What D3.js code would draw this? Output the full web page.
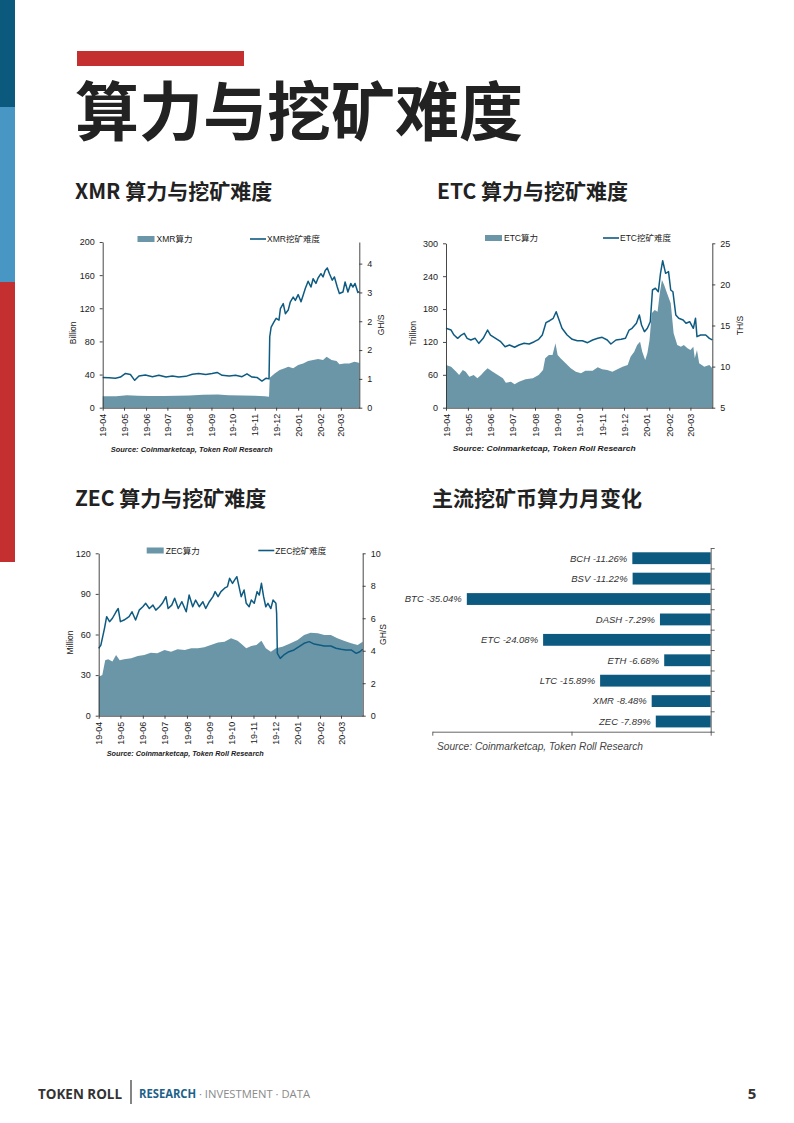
<!DOCTYPE html>
<html>
<head>
<meta charset="utf-8">
<script src="https://cdn.jsdelivr.net/npm/d3@7"></script>
<style>
body { margin: 0; background: #fff; }
svg { display: block; }
text { font-family: "Liberation Sans", Arial, "Noto Sans CJK SC", sans-serif; }
</style>
</head>
<body>
<script>
// ========== Chart data ==========
// XMR hash rate (Billion) and difficulty (GH/S).
var xmrHashDates = ["2019-04-01","2019-04-20","2019-05-05","2019-05-20","2019-06-05","2019-06-25","2019-07-15","2019-08-01","2019-08-20","2019-09-10","2019-09-25","2019-10-15","2019-11-01","2019-11-15","2019-11-21","2019-11-22","2019-11-29","2019-12-06","2019-12-13","2019-12-18","2019-12-25","2020-01-01","2020-01-08","2020-01-15","2020-01-22","2020-01-29","2020-02-05","2020-02-10","2020-02-17","2020-02-24","2020-02-28","2020-03-06","2020-03-13","2020-03-20","2020-03-25","2020-03-27"];
var xmrHashValues = [13.8,13.8,15.0,14.5,14.0,14.2,14.3,14.8,15.5,15.8,15.0,14.8,14.5,13.8,13.3,36,41.4,45.4,47.5,49.4,47.5,51.4,53.5,56.3,57.5,58.7,57.5,61.4,57.5,56.3,52.3,53.5,53.5,55.4,54.7,54];
var xmrDiffDates = ["2019-04-01","2019-04-10","2019-04-19","2019-04-26","2019-05-03","2019-05-10","2019-05-16","2019-05-22","2019-05-31","2019-06-10","2019-06-19","2019-06-29","2019-07-08","2019-07-17","2019-07-27","2019-08-05","2019-08-14","2019-08-24","2019-09-02","2019-09-09","2019-09-16","2019-09-26","2019-10-05","2019-10-14","2019-10-21","2019-10-28","2019-11-04","2019-11-11","2019-11-17","2019-11-21","2019-11-22","2019-11-24","2019-11-28","2019-12-01","2019-12-05","2019-12-07","2019-12-11","2019-12-14","2019-12-18","2019-12-21","2019-12-25","2019-12-28","2020-01-01","2020-01-05","2020-01-08","2020-01-11","2020-01-15","2020-01-19","2020-01-22","2020-01-26","2020-01-29","2020-02-02","2020-02-05","2020-02-08","2020-02-11","2020-02-14","2020-02-18","2020-02-21","2020-02-25","2020-02-28","2020-03-04","2020-03-07","2020-03-11","2020-03-15","2020-03-18","2020-03-21","2020-03-25","2020-03-27"];
var xmrDiffValues = [0.84,0.83,0.82,0.85,0.95,0.92,0.76,0.88,0.91,0.86,0.90,0.85,0.88,0.85,0.87,0.93,0.95,0.92,0.95,0.98,0.90,0.88,0.90,0.86,0.94,0.85,0.84,0.74,0.82,0.80,1.97,2.24,2.38,2.48,2.43,2.75,2.89,2.61,2.71,2.94,3.07,2.98,3.14,2.94,3.12,3.31,3.51,3.35,3.58,3.45,3.60,3.72,3.63,3.81,3.88,3.72,3.54,3.63,3.35,3.17,3.21,3.49,3.21,3.45,3.35,3.45,3.20,3.22];

// ETC hash rate (Trillion) and difficulty (TH/S).
var etcHashDates = ["2019-04-01","2019-04-08","2019-04-15","2019-04-19","2019-04-24","2019-04-28","2019-05-03","2019-05-09","2019-05-14","2019-05-19","2019-05-23","2019-05-28","2019-06-04","2019-06-11","2019-06-18","2019-06-22","2019-06-29","2019-07-04","2019-07-10","2019-07-19","2019-07-29","2019-08-06","2019-08-12","2019-08-15","2019-08-20","2019-08-25","2019-08-29","2019-09-01","2019-09-05","2019-09-12","2019-09-19","2019-09-26","2019-10-03","2019-10-09","2019-10-19","2019-10-26","2019-11-01","2019-11-08","2019-11-15","2019-11-22","2019-11-29","2019-12-06","2019-12-10","2019-12-15","2019-12-19","2019-12-23","2019-12-26","2019-12-30","2020-01-02","2020-01-05","2020-01-08","2020-01-12","2020-01-16","2020-01-19","2020-01-22","2020-01-25","2020-01-29","2020-02-03","2020-02-07","2020-02-12","2020-02-17","2020-02-21","2020-02-26","2020-03-01","2020-03-05","2020-03-07","2020-03-10","2020-03-13","2020-03-20","2020-03-27","2020-03-31"];
var etcHashValues = [77.9,74.8,65.7,59.7,68.8,65.7,56.6,59.7,53.6,59.7,65.7,71.9,65.7,59.7,53.6,45.6,47.4,42.7,47.4,51.8,53.6,59.7,68.8,90.1,96.2,96.2,117.5,96.2,90.1,81,71.9,65.7,62.8,67.5,67.5,73.7,70,68.8,65.7,70,74.8,77.9,93,102.2,114.4,120.4,102.2,87,99.3,123.5,172.3,178.3,175.2,208.8,233,223.9,208.8,190.5,135.8,114.4,111.3,114.4,108.4,105.3,111.3,90.1,105.3,81,74.8,77.9,71.9];
var etcDiffDates = ["2019-04-01","2019-04-08","2019-04-12","2019-04-17","2019-04-22","2019-04-26","2019-04-30","2019-05-05","2019-05-11","2019-05-16","2019-05-22","2019-05-28","2019-06-01","2019-06-08","2019-06-15","2019-06-21","2019-06-27","2019-07-04","2019-07-10","2019-07-17","2019-07-24","2019-07-31","2019-08-06","2019-08-11","2019-08-16","2019-08-21","2019-08-26","2019-08-30","2019-09-03","2019-09-07","2019-09-14","2019-09-21","2019-09-28","2019-10-05","2019-10-12","2019-10-19","2019-10-26","2019-11-01","2019-11-08","2019-11-13","2019-11-20","2019-11-27","2019-12-03","2019-12-08","2019-12-12","2019-12-18","2019-12-22","2019-12-25","2019-12-29","2020-01-02","2020-01-06","2020-01-09","2020-01-13","2020-01-17","2020-01-20","2020-01-23","2020-01-27","2020-01-31","2020-02-03","2020-02-06","2020-02-10","2020-02-14","2020-02-20","2020-02-24","2020-02-29","2020-03-05","2020-03-08","2020-03-10","2020-03-15","2020-03-22","2020-03-27","2020-03-31"];
var etcDiffValues = [14.66,14.45,13.84,13.44,13.84,14.05,13.44,13.24,13.44,12.83,13.44,14.45,13.84,13.44,13.03,12.42,12.63,12.35,12.63,12.83,12.75,13.03,13.32,13.84,15.34,15.58,15.88,16.68,15.67,14.66,13.84,13.32,13.15,13.15,12.91,13.24,13.44,13.56,13.24,12.75,13.24,13.32,13.44,14.45,14.66,15.27,16.28,15.06,14.25,14.66,15.46,19.32,19.53,19.11,21.35,22.88,21.35,21.55,19.32,19.11,16.28,15.88,15.67,15.27,15.46,14.66,15.88,13.64,13.84,13.84,13.44,13.24];

// ZEC hash rate (Million) and difficulty (GH/S).
var zecHashDates = ["2019-04-01","2019-04-06","2019-04-10","2019-04-14","2019-04-20","2019-04-25","2019-04-30","2019-05-06","2019-05-16","2019-05-25","2019-06-03","2019-06-12","2019-06-21","2019-07-01","2019-07-10","2019-07-19","2019-07-29","2019-08-07","2019-08-16","2019-08-25","2019-09-03","2019-09-13","2019-09-22","2019-10-01","2019-10-10","2019-10-17","2019-10-22","2019-10-29","2019-11-05","2019-11-12","2019-11-18","2019-11-25","2019-12-02","2019-12-11","2019-12-20","2020-01-01","2020-01-10","2020-01-19","2020-01-29","2020-02-07","2020-02-16","2020-02-25","2020-03-05","2020-03-15","2020-03-24","2020-03-31"];
var zecHashValues = [28.8,30,41,41.7,40,44.9,41,41.7,42.4,44.1,44.9,46.6,46.1,48.6,47.3,49.1,48.6,49.8,49.8,50.5,52.3,54,54.7,57.2,55.4,52.3,49.8,51.5,52.3,55.4,49.8,47.3,49.8,51,53,56,59.6,61.3,60.9,59.6,59.6,57.2,55.4,53.5,52.3,54.7];
var zecDiffDates = ["2019-04-01","2019-04-04","2019-04-09","2019-04-12","2019-04-16","2019-04-20","2019-04-25","2019-04-28","2019-05-01","2019-05-06","2019-05-13","2019-05-17","2019-05-22","2019-05-27","2019-06-01","2019-06-05","2019-06-10","2019-06-15","2019-06-19","2019-06-24","2019-06-28","2019-07-03","2019-07-06","2019-07-11","2019-07-15","2019-07-20","2019-07-25","2019-07-31","2019-08-04","2019-08-09","2019-08-13","2019-08-18","2019-08-23","2019-08-27","2019-09-01","2019-09-06","2019-09-09","2019-09-13","2019-09-17","2019-09-22","2019-09-26","2019-09-29","2019-10-03","2019-10-06","2019-10-09","2019-10-12","2019-10-15","2019-10-19","2019-10-22","2019-10-26","2019-10-29","2019-11-02","2019-11-06","2019-11-09","2019-11-12","2019-11-15","2019-11-18","2019-11-21","2019-11-25","2019-11-28","2019-12-02","2019-12-03","2019-12-04","2019-12-08","2019-12-13","2019-12-20","2019-12-27","2020-01-03","2020-01-10","2020-01-17","2020-01-24","2020-01-31","2020-02-07","2020-02-16","2020-02-23","2020-03-01","2020-03-08","2020-03-15","2020-03-22","2020-03-27","2020-03-31"];
var zecDiffValues = [4.15,4.35,5.38,6.1,5.79,6.0,6.4,6.6,5.79,5.89,6.1,6.4,5.89,6.5,6.71,6.92,6.6,6.81,6.5,6.71,6.92,7.33,6.6,6.81,7.23,6.6,7.02,6.4,7.43,6.71,7.12,6.71,7.02,6.6,7.02,7.33,7.64,7.33,7.64,7.85,7.95,8.46,8.15,8.36,8.56,7.95,7.33,7.74,6.92,6.71,7.12,6.92,7.64,7.43,8.15,7.33,6.71,6.92,6.6,7.12,6.92,6.3,3.84,3.53,3.74,3.94,4.05,4.25,4.46,4.56,4.41,4.35,4.29,4.29,4.15,4.09,4.05,4.05,3.84,3.94,4.09];

// Monthly hash rate change of mainstream mined coins (%).
var barCoins = ["BCH","BSV","BTC","DASH","ETC","ETH","LTC","XMR","ZEC"];
var barChanges = [-11.26,-11.22,-35.04,-7.29,-24.08,-6.68,-15.89,-8.48,-7.89];
// ===========================================================

var areaColor = "#6a96a8";
var lineColor = "#0e5b82";
var axisColor = "#333";
var parseDate = d3.timeParse("%Y-%m-%d");

var svg = d3.select("body").append("svg")
  .attr("width", 794)
  .attr("height", 1123);

// Left edge colour strip.
svg.append("rect").attr("x", 0).attr("y", 0).attr("width", 15).attr("height", 107).attr("fill", "#0b5a7e");
svg.append("rect").attr("x", 0).attr("y", 107).attr("width", 15).attr("height", 175).attr("fill", "#4796c4");
svg.append("rect").attr("x", 0).attr("y", 282).attr("width", 15).attr("height", 280).attr("fill", "#c3302f");

// Page heading.
svg.append("rect").attr("x", 77).attr("y", 51).attr("width", 167).attr("height", 15).attr("fill", "#c3302f");
svg.append("text")
  .attr("x", 75).attr("y", 135)
  .style("font-family", "'Noto Sans CJK SC', sans-serif")
  .style("font-weight", 700)
  .style("font-size", "64px")
  .attr("fill", "#222")
  .text("算力与挖矿难度");

function subTitle(x, y, str)
{
  svg.append("text")
    .attr("x", x).attr("y", y)
    .style("font-family", "'Noto Sans CJK SC', sans-serif")
    .style("font-weight", 700)
    .style("font-size", "21px")
    .attr("fill", "#222")
    .text(str);
}
subTitle(75, 199, "XMR 算力与挖矿难度");
subTitle(437, 199, "ETC 算力与挖矿难度");
subTitle(75, 506, "ZEC 算力与挖矿难度");
subTitle(432, 506, "主流挖矿币算力月变化");

/* Area (hash rate, left axis) plus line (difficulty, right axis). */
function drawDual(cfg)
{
  var b = cfg.box;
  var g = svg.append("g");

  var x = d3.scaleTime()
    .domain([parseDate(cfg.start), parseDate(cfg.end)])
    .range([b.left, b.right]);
  var yL = d3.scaleLinear().domain(cfg.leftDomain).range([b.bottom, b.top]);
  var yR = d3.scaleLinear().domain(cfg.rightDomain).range([b.bottom, b.top]);

  var hash = cfg.hashDates.map(function(d, i) { return [parseDate(d), cfg.hashValues[i]]; });
  var diff = cfg.diffDates.map(function(d, i) { return [parseDate(d), cfg.diffValues[i]]; });

  var area = d3.area()
    .x(function(d) { return x(d[0]); })
    .y0(b.bottom)
    .y1(function(d) { return yL(d[1]); });
  g.append("path").datum(hash).attr("d", area).attr("fill", areaColor);

  var line = d3.line()
    .x(function(d) { return x(d[0]); })
    .y(function(d) { return yR(d[1]); });
  g.append("path").datum(diff).attr("d", line)
    .attr("fill", "none")
    .attr("stroke", lineColor)
    .attr("stroke-width", 1.5)
    .attr("stroke-linejoin", "round");

  // Axes
  var left = g.append("g")
    .attr("transform", "translate(" + b.left + ",0)")
    .call(d3.axisLeft(yL).tickValues(cfg.leftTicks).tickSize(3).tickSizeOuter(0).tickPadding(5));
  var right = g.append("g")
    .attr("transform", "translate(" + b.right + ",0)")
    .call(d3.axisRight(yR).tickValues(cfg.rightTicks).tickSize(3).tickSizeOuter(0).tickPadding(5)
      .tickFormat(d3.format(".0f")));
  var bottom = g.append("g")
    .attr("transform", "translate(0," + b.bottom + ")")
    .call(d3.axisBottom(x).ticks(d3.timeMonth.every(1)).tickFormat(d3.timeFormat("%y-%m"))
      .tickSize(3).tickSizeOuter(0));
  bottom.selectAll("text")
    .attr("y", 0).attr("x", -6).attr("dy", "0.35em")
    .attr("transform", "rotate(-90)")
    .style("text-anchor", "end");

  [left, right, bottom].forEach(function(a) {
    a.attr("font-family", "'Liberation Sans', Arial, sans-serif").attr("font-size", 9);
    a.selectAll("path, line").attr("stroke", axisColor).attr("stroke-width", 0.9);
    a.selectAll("text").attr("fill", "#1a1a1a");
  });

  // Axis titles
  g.append("text")
    .attr("transform", "translate(" + cfg.leftTitleX + "," + ((b.top + b.bottom) / 2 + 8) + ") rotate(-90)")
    .attr("text-anchor", "middle").attr("font-size", 8.5).attr("fill", "#1a1a1a")
    .text(cfg.leftTitle);
  g.append("text")
    .attr("transform", "translate(" + cfg.rightTitleX + "," + ((b.top + b.bottom) / 2) + ") rotate(-90)")
    .attr("text-anchor", "middle").attr("font-size", 8.5).attr("fill", "#1a1a1a")
    .text(cfg.rightTitle);

  // Legend
  var lg = cfg.legend;
  g.append("rect").attr("x", lg.ax).attr("y", lg.y - 6).attr("width", 17).attr("height", 6).attr("fill", areaColor);
  g.append("text").attr("x", lg.ax + 19).attr("y", lg.y).attr("font-size", 8.5).attr("fill", "#1a1a1a")
    .text(cfg.hashName);
  g.append("line").attr("x1", lg.lx).attr("x2", lg.lx + 16).attr("y1", lg.y - 3).attr("y2", lg.y - 3)
    .attr("stroke", lineColor).attr("stroke-width", 1.6);
  g.append("text").attr("x", lg.lx + 17).attr("y", lg.y).attr("font-size", 8.5).attr("fill", "#1a1a1a")
    .text(cfg.diffName);

  // Source note
  g.append("text")
    .attr("x", cfg.source.x).attr("y", cfg.source.y)
    .attr("font-size", 8).attr("font-weight", "bold").attr("font-style", "italic")
    .attr("fill", "#1a1a1a")
    .attr("textLength", cfg.source.w).attr("lengthAdjust", "spacingAndGlyphs")
    .text("Source: Coinmarketcap, Token Roll Research");
}

drawDual({
  box: {left: 102.7, right: 359.3, top: 242, bottom: 407.7},
  start: "2019-04-01", end: "2020-03-27",
  leftDomain: [0, 200], leftTicks: [0, 40, 80, 120, 160, 200],
  rightDomain: [0, 4.6], rightTicks: [0, 0.8, 1.6, 2.4, 3.2, 4.0],
  hashDates: xmrHashDates, hashValues: xmrHashValues,
  diffDates: xmrDiffDates, diffValues: xmrDiffValues,
  hashName: "XMR算力", diffName: "XMR挖矿难度",
  leftTitle: "Billion", leftTitleX: 76, rightTitle: "GH/S", rightTitleX: 384,
  legend: {ax: 137.5, lx: 250, y: 242},
  source: {x: 110.7, y: 452, w: 162}
});

drawDual({
  box: {left: 446, right: 712.3, top: 243.3, bottom: 407.7},
  start: "2019-04-01", end: "2020-03-31",
  leftDomain: [0, 300], leftTicks: [0, 60, 120, 180, 240, 300],
  rightDomain: [5, 25], rightTicks: [5, 10, 15, 20, 25],
  hashDates: etcHashDates, hashValues: etcHashValues,
  diffDates: etcDiffDates, diffValues: etcDiffValues,
  hashName: "ETC算力", diffName: "ETC挖矿难度",
  leftTitle: "Trillion", leftTitleX: 415.5, rightTitle: "TH/S", rightTitleX: 742.5,
  legend: {ax: 485, lx: 603, y: 241},
  source: {x: 452.7, y: 450.5, w: 183}
});

drawDual({
  box: {left: 98.7, right: 362.7, top: 553.3, bottom: 715.7},
  start: "2019-04-01", end: "2020-03-31",
  leftDomain: [0, 120], leftTicks: [0, 30, 60, 90, 120],
  rightDomain: [0, 10], rightTicks: [0, 2, 4, 6, 8, 10],
  hashDates: zecHashDates, hashValues: zecHashValues,
  diffDates: zecDiffDates, diffValues: zecDiffValues,
  hashName: "ZEC算力", diffName: "ZEC挖矿难度",
  leftTitle: "Million", leftTitleX: 73, rightTitle: "GH/S", rightTitleX: 386,
  legend: {ax: 146.7, lx: 258.3, y: 553.5},
  source: {x: 106.7, y: 756, w: 157}
});

/* Horizontal bar chart of monthly hash rate change. */
function drawBars()
{
  var left = 432.3, right = 710.7, top = 548, bottom = 731.7;
  var g = svg.append("g");

  var x = d3.scaleLinear().domain([-40, 0]).range([left, right]);
  var y = d3.scaleBand().domain(barCoins).range([top, bottom])
    .paddingInner(0.42).paddingOuter(0.21);

  g.selectAll("rect.bar")
    .data(barCoins)
    .enter().append("rect")
    .attr("class", "bar")
    .attr("x", function(d, i) { return x(barChanges[i]); })
    .attr("y", function(d) { return y(d); })
    .attr("width", function(d, i) { return x(0) - x(barChanges[i]); })
    .attr("height", y.bandwidth())
    .attr("fill", "#0d5a80");

  g.selectAll("text.lab")
    .data(barCoins)
    .enter().append("text")
    .attr("class", "lab")
    .attr("x", function(d, i) { return x(barChanges[i]) - 5; })
    .attr("y", function(d) { return y(d) + y.bandwidth() / 2; })
    .attr("dy", "0.35em")
    .attr("text-anchor", "end")
    .attr("font-size", 9.5)
    .attr("font-style", "italic")
    .attr("fill", "#333")
    .text(function(d, i) { return d + " " + barChanges[i].toFixed(2) + "%"; });

  // Category boundary ticks on the right-hand axis.
  var idx = d3.scaleLinear().domain([0, barCoins.length]).range([top, bottom]);
  var rAxis = g.append("g")
    .attr("transform", "translate(" + right + ",0)")
    .call(d3.axisRight(idx).tickValues(d3.range(barCoins.length + 1)).tickFormat("")
      .tickSize(4).tickSizeOuter(0));
  var bAxis = g.append("g")
    .attr("transform", "translate(0," + bottom + ")")
    .call(d3.axisBottom(x).tickValues([-40, -20, 0]).tickFormat("").tickSize(4).tickSizeOuter(0));
  [rAxis, bAxis].forEach(function(a) {
    a.selectAll("path, line").attr("stroke", "#555").attr("stroke-width", 0.9);
  });

  g.append("text")
    .attr("x", 437).attr("y", 750)
    .attr("font-size", 10).attr("font-style", "italic").attr("fill", "#444")
    .attr("textLength", 206).attr("lengthAdjust", "spacingAndGlyphs")
    .text("Source: Coinmarketcap, Token Roll Research");
}
drawBars();

// Footer
svg.append("text").attr("x", 38).attr("y", 1099)
  .style("font-family", "'Open Sans', sans-serif").style("font-weight", 700).style("font-size", "14px")
  .attr("fill", "#333").attr("textLength", 84).attr("lengthAdjust", "spacingAndGlyphs")
  .text("TOKEN ROLL");
svg.append("line").attr("x1", 131).attr("x2", 131).attr("y1", 1080).attr("y2", 1104)
  .attr("stroke", "#333").attr("stroke-width", 1.2);
var foot = svg.append("text").attr("x", 139).attr("y", 1098)
  .style("font-family", "'Open Sans', sans-serif").style("font-size", "11.5px")
  .attr("textLength", 171).attr("lengthAdjust", "spacingAndGlyphs");
foot.append("tspan").attr("fill", "#1d6189").style("font-weight", 700).text("RESEARCH");
foot.append("tspan").attr("fill", "#8a8a8a").text(" · INVESTMENT · DATA");
svg.append("text").attr("x", 752).attr("y", 1099).attr("text-anchor", "middle")
  .style("font-family", "'Open Sans', sans-serif").style("font-weight", 700).style("font-size", "15px")
  .attr("fill", "#333").text("5");
</script>
</body>
</html>
